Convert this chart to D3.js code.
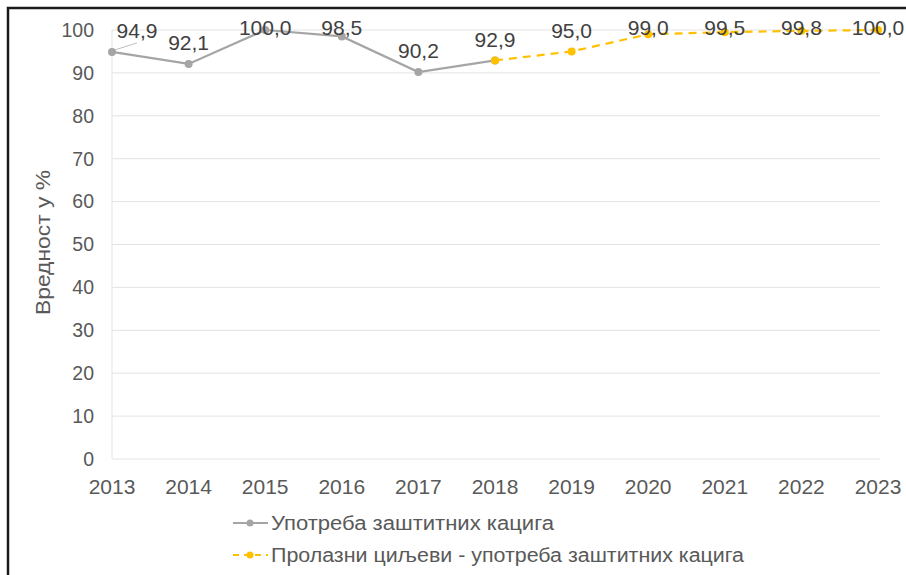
<!DOCTYPE html>
<html>
<head>
<meta charset="utf-8">
<script src="https://cdn.jsdelivr.net/npm/d3@7"></script>
<style>
  body { margin: 0; background: #fff; }
  svg { display: block; font-family: "Liberation Sans", Arial, sans-serif; }
</style>
</head>
<body>
<div id="chart"></div>
<script>
// data
const years = [2013, 2014, 2015, 2016, 2017, 2018, 2019, 2020, 2021, 2022, 2023];
const actualYears = [2013, 2014, 2015, 2016, 2017, 2018];
const actualValues = [94.9, 92.1, 100.0, 98.5, 90.2, 92.9];
const targetYears = [2018, 2019, 2020, 2021, 2022, 2023];
const targetValues = [92.9, 95.0, 99.0, 99.5, 99.8, 100.0];
const yTicks = [0, 10, 20, 30, 40, 50, 60, 70, 80, 90, 100];
const seriesNames = ["Употреба заштитних кацига", "Пролазни циљеви - употреба заштитних кацига"];
const yTitle = "Вредност у %";

const width = 906;
const height = 575;
const grey = "#a5a5a5";
const gold = "#ffc000";
const textCol = "#595959";

const svg = d3.select("#chart").append("svg")
  .attr("width", width)
  .attr("height", height);

// frame (left and top edge visible)
svg.append("path")
  .attr("d", "M8,575 V8 H906")
  .attr("fill", "none")
  .attr("stroke", "#1a1a1a")
  .attr("stroke-width", 2.5);

const x = d3.scaleLinear().domain([2013, 2023]).range([112, 878]);
const y = d3.scaleLinear().domain([0, 100]).range([459, 30]);

// gridlines
svg.append("g")
  .selectAll("line")
  .data(yTicks)
  .enter()
  .append("line")
  .attr("x1", 112)
  .attr("x2", 880)
  .attr("y1", d => y(d))
  .attr("y2", d => y(d))
  .attr("stroke", "#e3e3e3")
  .attr("stroke-width", 1);

// left axis line
svg.append("line")
  .attr("x1", 112).attr("x2", 112)
  .attr("y1", y(100)).attr("y2", y(0))
  .attr("stroke", "#e3e3e3");

// y tick labels
svg.append("g")
  .selectAll("text")
  .data(yTicks)
  .enter()
  .append("text")
  .attr("x", 94)
  .attr("y", d => y(d))
  .attr("dy", "0.35em")
  .attr("text-anchor", "end")
  .attr("font-size", "19.5px")
  .attr("fill", textCol)
  .text(d => d);

// x tick labels
svg.append("g")
  .selectAll("text")
  .data(years)
  .enter()
  .append("text")
  .attr("x", d => x(d))
  .attr("y", 487)
  .attr("dy", "0.35em")
  .attr("text-anchor", "middle")
  .attr("font-size", "21px")
  .attr("fill", textCol)
  .text(d => d);

// y title
svg.append("text")
  .attr("transform", "translate(50,170) rotate(-90)")
  .attr("text-anchor", "end")
  .attr("font-size", "20px")
  .attr("fill", textCol)
  .attr("textLength", 145)
  .attr("lengthAdjust", "spacingAndGlyphs")
  .text(yTitle);

const actual = actualYears.map((yr, i) => ({ year: yr, value: actualValues[i] }));
const target = targetYears.map((yr, i) => ({ year: yr, value: targetValues[i] }));

const line = d3.line()
  .x(d => x(d.year))
  .y(d => y(d.value));

svg.append("path")
  .datum(actual)
  .attr("d", line)
  .attr("fill", "none")
  .attr("stroke", grey)
  .attr("stroke-width", 2.2);

svg.append("g")
  .selectAll("circle")
  .data(actual)
  .enter()
  .append("circle")
  .attr("cx", d => x(d.year))
  .attr("cy", d => y(d.value))
  .attr("r", 4)
  .attr("fill", grey);

svg.append("path")
  .datum(target)
  .attr("d", line)
  .attr("fill", "none")
  .attr("stroke", gold)
  .attr("stroke-width", 2.2)
  .attr("stroke-dasharray", "8,6");

svg.append("g")
  .selectAll("circle")
  .data(target)
  .enter()
  .append("circle")
  .attr("cx", d => x(d.year))
  .attr("cy", d => y(d.value))
  .attr("r", 4)
  .attr("fill", gold);

// data labels (2018 labelled once)
const labelled = actual.concat(target.slice(1));
const fmt = v => v.toFixed(1).replace(".", ",");

// leader line for the first label
svg.append("line")
  .attr("x1", x(2013) + 3).attr("y1", y(actualValues[0]) - 2)
  .attr("x2", x(2013) + 25).attr("y2", y(actualValues[0]) - 9)
  .attr("stroke", "#bfbfbf")
  .attr("stroke-width", 1);

svg.append("g")
  .selectAll("text")
  .data(labelled)
  .enter()
  .append("text")
  .attr("x", (d, i) => x(d.year) + (i === 0 ? 25 : 0))
  .attr("y", d => Math.max(y(d.value) - 21, 28))
  .attr("dy", "0.35em")
  .attr("text-anchor", "middle")
  .attr("font-size", "21px")
  .attr("fill", "#404040")
  .text(d => fmt(d.value));

// legend
const legend = svg.append("g");
const rows = [
  { name: seriesNames[0], color: grey, dash: null, y: 523, len: 283 },
  { name: seriesNames[1], color: gold, dash: "6,5", y: 555, len: 473 }
];
rows.forEach(r => {
  legend.append("line")
    .attr("x1", 233).attr("x2", 268)
    .attr("y1", r.y).attr("y2", r.y)
    .attr("stroke", r.color)
    .attr("stroke-width", 2.2)
    .attr("stroke-dasharray", r.dash);
  legend.append("circle")
    .attr("cx", 250).attr("cy", r.y)
    .attr("r", 3.5)
    .attr("fill", r.color);
  legend.append("text")
    .attr("x", 271)
    .attr("y", r.y)
    .attr("dy", "0.35em")
    .attr("font-size", "20px")
    .attr("fill", textCol)
    .attr("textLength", r.len)
    .attr("lengthAdjust", "spacingAndGlyphs")
    .text(r.name);
});
</script>
</body>
</html>
